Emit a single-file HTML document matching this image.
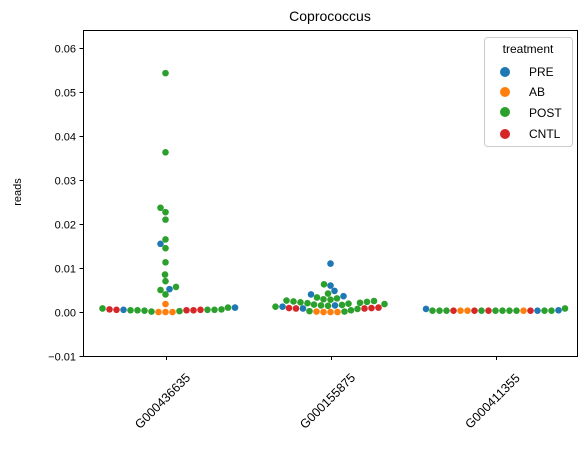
<!DOCTYPE html>
<html><head><meta charset="utf-8"><style>
body{margin:0;background:#fff}
svg text{font-family:"Liberation Sans","DejaVu Sans",sans-serif;fill:#000}
</style></head><body>
<svg id="chart" width="587" height="450" xmlns="http://www.w3.org/2000/svg">
<rect width="587" height="450" fill="#fff"/>
<g id="marks"></g>
<g id="axes"></g>
<text x="330" y="21" font-size="14" text-anchor="middle">Coprococcus</text>
<text transform="translate(21,192) rotate(-90)" font-size="11" text-anchor="middle">reads</text>
<g>
<rect x="484.5" y="37.5" width="88" height="109" rx="3" fill="#fff" stroke="#ccc"/>
<text x="528" y="53" font-size="12" text-anchor="middle">treatment</text>
<g><circle cx="505" cy="72" r="5" fill="#1f77b4"/><text x="529" y="76" font-size="12">PRE</text></g>
<g><circle cx="505" cy="92" r="5" fill="#ff7f0e"/><text x="529" y="96" font-size="12">AB</text></g>
<g><circle cx="505" cy="112" r="5" fill="#2ca02c"/><text x="529" y="117" font-size="12">POST</text></g>
<g><circle cx="505" cy="134" r="5" fill="#d62728"/><text x="529" y="138" font-size="12">CNTL</text></g>
</g>
</svg>
<script>
const categories=["G000436635","G000155875","G000411355"];
const yTicks=[-0.01,0,0.01,0.02,0.03,0.04,0.05,0.06];
const yTickLabels=["−0.01","0.00","0.01","0.02","0.03","0.04","0.05","0.06"];
const treatments=["PRE","AB","POST","CNTL"];
const colors={PRE:"#1f77b4",AB:"#ff7f0e",POST:"#2ca02c",CNTL:"#d62728"};
const g1Values=[0.0543,0.0363,0.0237,0.0227,0.0210,0.0165,0.0145,0.0113,0.0085,0.0070,0.0057,0.0050,0.0040,0.0155,0.0052,0.0018,
0.0010,0.0008,0.0006,0.0006,0.0005,0.0005,0.0005,0.0005,0.0005,0.0004,0.0004,0.0004,0.0004,0.0003,0.0002,0.0001,0.0000,0.0000,0.0000,0.0010];
const g1Treat=["POST","POST","POST","POST","POST","POST","POST","POST","POST","POST","POST","POST","POST","PRE","PRE","AB",
"POST","POST","CNTL","POST","CNTL","PRE","POST","CNTL","POST","CNTL","POST","CNTL","POST","POST","POST","POST","AB","AB","AB","PRE"];
const g2Values=[0.0110,0.0060,0.0048,0.0036,0.0040,0.0012,0.0015,0.0008,0.0063,0.0042,0.0033,0.0031,0.0029,0.0028,0.0026,0.0025,0.0024,0.0023,0.0022,0.0021,0.0020,0.0019,0.0018,0.0017,0.0016,0.0015,0.0014,0.0012,0.0010,0.0009,0.0009,0.0008,0.0008,0.0007,0.0004,0.0000,0.0000,0.0000,0.0001,0.0001,0.0002];
const g2Treat=["PRE","PRE","PRE","PRE","PRE","PRE","PRE","PRE","POST","POST","POST","POST","POST","POST","POST","POST","POST","POST","POST","POST","POST","POST","POST","POST","POST","POST","POST","POST","CNTL","CNTL","CNTL","CNTL","CNTL","POST","POST","AB","AB","AB","AB","POST","POST"];
const g3Values=[0.0008,0.0007,0.0004,0.0003,0.0003,0.0003,0.0003,0.0003,0.0003,0.0003,0.0003,0.0003,0.0003,0.0003,0.0003,0.0003,0.0003,0.0003,0.0003,0.0003,0.0003];
const g3Treat=["POST","PRE","PRE","POST","CNTL","POST","POST","POST","CNTL","POST","AB","AB","AB","CNTL","CNTL","PRE","POST","POST","POST","POST","POST"];
const groupValues=[g1Values,g2Values,g3Values];
const groupTreat=[g1Treat,g2Treat,g3Treat];

const L=83,R=578,T=30,B=356,yMin=-0.01,yMax=0.0641;
const xS=i=>L+(i+0.5)*(R-L)/categories.length;
const yS=v=>B-(v-yMin)/(yMax-yMin)*(B-T);
const NS="http://www.w3.org/2000/svg";
function mk(tag,attrs,parent){const e=document.createElementNS(NS,tag);for(const k in attrs)e.setAttribute(k,attrs[k]);parent.appendChild(e);return e;}
const marks=document.getElementById('marks'),axes=document.getElementById('axes');
const D=6.6;
groupValues.forEach((vals,gi)=>{
  const cx=xS(gi);
  const idx=vals.map((v,i)=>i).sort((a,b)=>vals[a]-vals[b]);
  const placed=[];
  idx.forEach(i=>{
    const y=yS(vals[i]);
    let best=0;
    const cands=[0];
    for(let k=1;k<400;k++){cands.push(-k*0.5,k*0.5);}
    for(const off of cands){
      let ok=true;
      for(const p of placed){const dx=p.x-off,dy=p.y-y;if(dx*dx+dy*dy<D*D-0.01){ok=false;break;}}
      if(ok){best=off;break;}
    }
    placed.push({x:best,y:y});
    const c=mk('circle',{cx:cx+best,cy:y,r:3.3,fill:colors[groupTreat[gi][i]]},marks);
    
    
  });
});
const frame=mk('rect',{x:L+0.5,y:T+0.5,width:R-L-1,height:B-T,fill:'none',stroke:'#000','stroke-width':1},axes);


yTicks.forEach((t,i)=>{
  const y=Math.round(yS(t))+0.5;
  mk('line',{x1:L-3.5,x2:L+0.5,y1:y,y2:y,stroke:'#000'},axes);
  const tx=mk('text',{x:L-7,y:y+4,'font-size':11,'text-anchor':'end'},axes);
  tx.textContent=yTickLabels[i];
  
  
});
categories.forEach((c,i)=>{
  const x=Math.round(xS(i))+0.5;
  mk('line',{x1:x,x2:x,y1:B,y2:B+4,stroke:'#000'},axes);
  const tx=mk('text',{transform:`translate(${x-1},${B+48}) rotate(-45)`,'font-size':12.5,'text-anchor':'middle'},axes);
  tx.textContent=c;
  
  
});
</script>
</body></html>
